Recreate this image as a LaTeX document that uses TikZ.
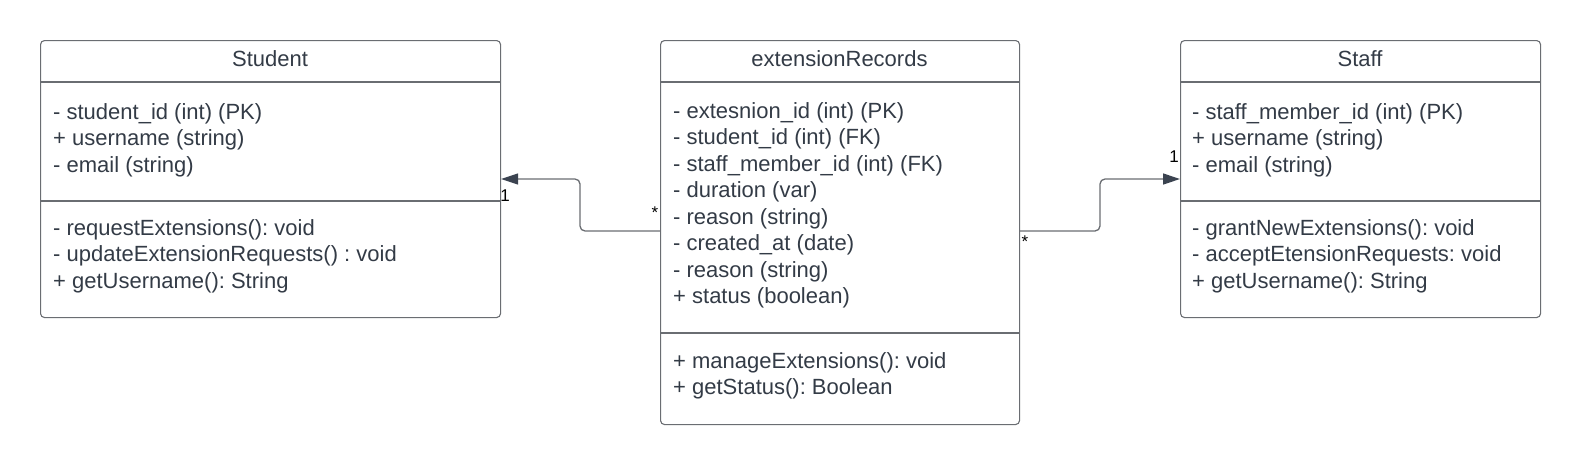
\documentclass[tikz,border=0pt]{standalone}
\usepackage{fontspec}
\setmainfont{Liberation Sans}
\frenchspacing
\usetikzlibrary{arrows.meta}
\definecolor{txt}{HTML}{333B46}
\definecolor{edge}{HTML}{6A6D72}
\definecolor{head}{HTML}{3B4350}
\begin{document}
\begin{tikzpicture}[x=1pt,y=-1pt,
  box/.style={draw=edge,line width=1.1pt,rounded corners=4pt,inner sep=0pt,anchor=north west},
  sep/.style={draw=edge,line width=1.1pt},
  lbl/.style={anchor=base west,inner sep=0pt,text=txt,font=\fontsize{22}{26.5}\selectfont},
  ttl/.style={anchor=base,inner sep=0pt,text=txt,font=\fontsize{22}{26.5}\selectfont},
  mult/.style={inner sep=0pt,text=black,font=\fontsize{17}{20}\selectfont},
  assoc/.style={draw=edge,line width=1.3pt,rounded corners=5pt,
    -{Triangle[length=17pt,width=11pt,color=head,fill=head]}}]
\useasboundingbox (0,0) rectangle (1580,464);
% class boxes
\node[box,minimum width=460pt,minimum height=277pt] (student) at (40,40) {};
\node[box,minimum width=359pt,minimum height=384pt] (rec) at (660,40) {};
\node[box,minimum width=360pt,minimum height=277pt] (staff) at (1180,40) {};
\draw[sep] (student.west |- 0,82) -- (student.east |- 0,82);
\draw[sep] (student.west |- 0,201) -- (student.east |- 0,201);
\draw[sep] (rec.west |- 0,82) -- (rec.east |- 0,82);
\draw[sep] (rec.west |- 0,333) -- (rec.east |- 0,333);
\draw[sep] (staff.west |- 0,82) -- (staff.east |- 0,82);
\draw[sep] (staff.west |- 0,201) -- (staff.east |- 0,201);
% titles
\node[ttl] (student-t) at (270,66) {Student};
\node[ttl] (rec-t) at (839.5,66) {extensionRecords};
\node[ttl] (staff-t) at (1360,66) {Staff};
% Student
\foreach \t [count=\i] in {{- student\_id (int) (PK)},{+ username (string)},{- email (string)}}
  \node[lbl] (student-a\i) at (53,{119+26.5*(\i-1)}) {\t};
\foreach \t [count=\i] in {{- requestExtensions(): void},{- updateExtensionRequests() : void},{+ getUsername(): String}}
  \node[lbl] (student-m\i) at (53,{235+26.5*(\i-1)}) {\t};
% extensionRecords
\foreach \t [count=\i] in {{- extesnion\_id (int) (PK)},{- student\_id (int) (FK)},{- staff\_member\_id (int) (FK)},
  {- duration (var)},{- reason (string)},{- created\_at (date)},{- reason (string)},{+ status (boolean)}}
  \node[lbl] (rec-a\i) at (673,{118+26.5*(\i-1)}) {\t};
\foreach \t [count=\i] in {{+ manageExtensions(): void},{+ getStatus(): Boolean}}
  \node[lbl] (rec-m\i) at (673,{368+26.5*(\i-1)}) {\t};
% Staff
\foreach \t [count=\i] in {{- staff\_member\_id (int) (PK)},{+ username (string)},{- email (string)}}
  \node[lbl] (staff-a\i) at (1192,{119+26.5*(\i-1)}) {\t};
\foreach \t [count=\i] in {{- grantNewExtensions(): void},{- acceptEtensionRequests: void},{+ getUsername(): String}}
  \node[lbl] (staff-m\i) at (1192,{235+26.5*(\i-1)}) {\t};
% associations
\draw[assoc] (rec.west |- 0,231) -| (580,179) -- (student.east |- 0,179);
\draw[assoc] (rec.east |- 0,231) -| (1100,179) -- (staff.west |- 0,179);
\node[mult] (m-student) at (505,196) {1};
\node[mult] (m-recl) at (655,213) {*};
\node[mult] (m-recr) at (1025,242) {*};
\node[mult] (m-staff) at (1174,157) {1};
\end{tikzpicture}
\end{document}
